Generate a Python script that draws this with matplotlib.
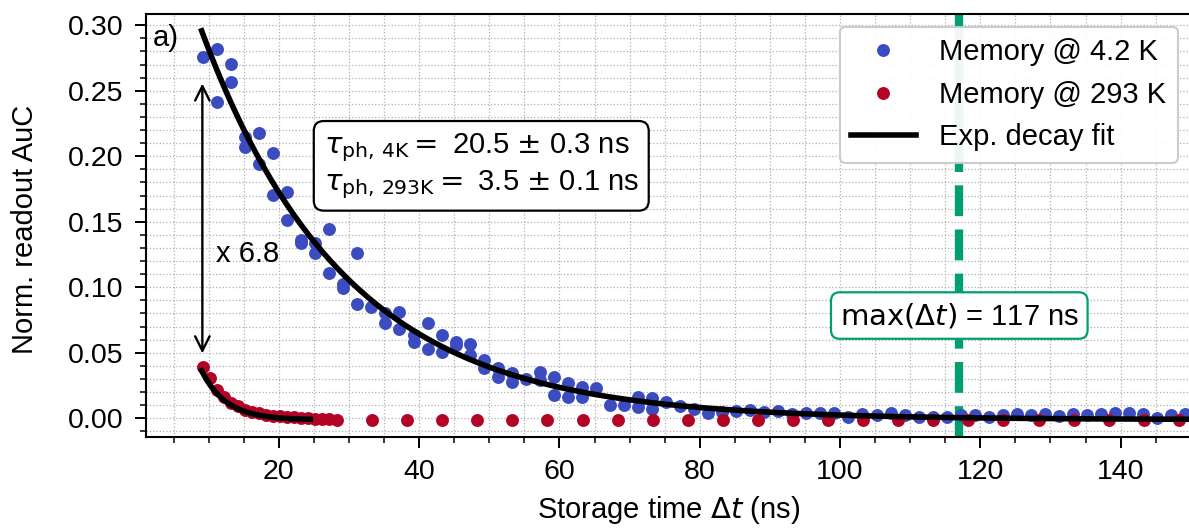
import numpy as np
import matplotlib
matplotlib.use("Agg")
import matplotlib.pyplot as plt
from matplotlib.ticker import MultipleLocator

plt.rcParams['font.family'] = ['Liberation Sans', 'DejaVu Sans']
plt.rcParams['mathtext.fontset'] = 'dejavusans'

# Memory @ 4.2 K (storage time in ns, normalised AuC)
t_4k = [9.2, 11.2, 11.2, 13.2, 13.2, 15.2, 15.2, 17.2, 17.2, 19.2, 19.2, 21.2, 21.2,
        23.2, 23.2, 25.2, 25.2, 27.2, 27.2, 29.2, 29.2, 31.2, 31.2, 33.2, 35.2, 35.2,
        37.2, 37.2, 39.2, 39.2, 41.2, 41.2, 43.2, 43.2, 45.2, 45.2, 47.2, 47.2, 49.2,
        49.2, 51.2, 51.2, 53.2, 53.2, 55.2, 57.2, 57.2, 59.2, 59.2, 61.2, 61.2, 63.2,
        63.2, 65.2, 67.2, 69.2, 71.2, 71.2, 73.2, 73.2, 75.2, 77.2, 79.2, 81.2, 83.2,
        85.2, 87.2, 89.2, 91.2, 93.2, 95.2, 97.2, 99.2, 101.2, 103.2, 105.2, 107.2,
        109.2, 111.2, 113.2, 115.2, 117.2, 119.2, 121.2, 123.2, 125.2, 127.2, 129.2,
        131.2, 133.2, 135.2, 137.2, 139.2, 141.2, 143.2, 145.2, 147.2, 149.2]
auc_4k = [0.276, 0.2816, 0.2416, 0.2702, 0.2569, 0.2149, 0.2073, 0.2175, 0.1938, 0.2027,
          0.1704, 0.1729, 0.1513, 0.136, 0.1335, 0.134, 0.1263, 0.1442, 0.1111, 0.1024,
          0.0992, 0.1259, 0.0869, 0.0847, 0.0805, 0.0729, 0.0813, 0.068, 0.0635, 0.0584,
          0.0729, 0.0526, 0.0635, 0.0508, 0.0584, 0.0559, 0.0564, 0.0482, 0.0444, 0.0381,
          0.0381, 0.0317, 0.0343, 0.0279, 0.0297, 0.035, 0.0292, 0.0317, 0.0177, 0.0271,
          0.0164, 0.024, 0.0164, 0.0228, 0.0101, 0.0101, 0.0164, 0.0088, 0.0151, 0.0068,
          0.0126, 0.0097, 0.0072, 0.004, 0.005, 0.0055, 0.0063, 0.005, 0.0055, 0.003,
          0.0037, 0.0037, 0.0037, 0.001, 0.003, 0.0024, 0.0037, 0.0024, 0.0011, 0.0011,
          0.0011, 0.0024, 0.0024, 0.0011, 0.0024, 0.003, 0.0024, 0.003, 0.002, 0.003,
          0.0024, 0.003, 0.0037, 0.0037, 0.003, 0.0, 0.0024, 0.003]

# Memory @ 293 K
t_293k = [9.2, 10.2, 11.2, 12.2, 13.2, 14.2, 15.2, 16.2, 17.2, 18.2, 19.2, 20.2, 21.2,
          22.2, 23.2, 24.2, 25.2, 26.2, 27.2, 28.3, 33.3, 38.3, 43.3, 48.3, 53.3, 58.3,
          63.3, 68.3, 73.3, 78.3, 83.3, 88.3, 93.3, 98.3, 103.3, 108.3, 113.3, 118.3,
          123.3, 128.3, 133.3, 138.3, 143.3, 148.3]
auc_293k = [0.0393, 0.0305, 0.0215, 0.016, 0.012, 0.009, 0.0065, 0.005, 0.0038, 0.0028,
            0.002, 0.0015, 0.001, 0.0006, 0.0003, 0.0, -0.0003, -0.0006, -0.0008, -0.0012,
            -0.0014, -0.0012, -0.0014, -0.0012, -0.0014, -0.0014, -0.0012, -0.0014, -0.0012,
            -0.0014, -0.0014, -0.0012, -0.0014, -0.0014, -0.0012, -0.0014, -0.0012, -0.0014,
            -0.0014, -0.0012, -0.0014, -0.0012, -0.0014, -0.0012]

# exponential decay fits
tau_4k, amp_4k, off_4k = 20.5, 0.2969, -0.0011
tau_293k, amp_293k, off_293k = 3.5, 0.0376, -0.0013
t0 = 9.0
max_dt = 117

blue = '#3b4cc0'
red = '#b40426'
green = '#009e73'

fig = plt.figure(figsize=(11.89, 5.28), dpi=100)
ax = fig.add_axes([0.1224, 0.1723, 0.8791, 0.8021])

ax.axvline(max_dt, color=green, lw=6, ls='--', zorder=1)

ax.plot(t_4k, auc_4k, 'o', color=blue, ms=9.3, mew=0, label='Memory @ 4.2 K', zorder=3)
ax.plot(t_293k, auc_293k, 'o', color=red, ms=9.3, mew=0, label='Memory @ 293 K', zorder=3)

tf = np.linspace(t0, 150, 400)
ax.plot(tf, amp_4k * np.exp(-(tf - t0) / tau_4k) + off_4k, color='black', lw=4,
        label='Exp. decay fit', zorder=4)
tf2 = np.linspace(t0, 24.5, 100)
ax.plot(tf2, amp_293k * np.exp(-(tf2 - t0) / tau_293k) + off_293k, color='black', lw=4, zorder=4)

ax.annotate('', xy=(9.1, 0.0495), xytext=(9.1, 0.2556),
            arrowprops=dict(arrowstyle='<->', lw=1.7, color='black', mutation_scale=26,
                            shrinkA=0, shrinkB=0), zorder=5)
ax.text(11.0, 0.1253, 'x 6.8', fontsize=21, ha='left', va='center', zorder=5)
ax.text(0.007, 0.975, 'a)', transform=ax.transAxes, fontsize=21, ha='left', va='top')

ax.text(26.4, 0.1927,
        r'$\tau_\mathrm{ph,\,4K} =$ 20.5 $\pm$ 0.3 ns' + '\n' + r'$\tau_\mathrm{ph,\,293K} =$ 3.5 $\pm$ 0.1 ns',
        fontsize=21, ha='left', va='center', linespacing=1.2, zorder=6,
        bbox=dict(boxstyle='round,pad=0.34', fc='white', ec='black', lw=1.6))
ax.text(max_dt, 0.0784, r'$\max(\Delta t)$ = 117 ns', fontsize=21, ha='center', va='center',
        zorder=6, bbox=dict(boxstyle='round,pad=0.3', fc='white', ec=green, lw=1.6))

ax.set_xlim(1, 150)
ax.set_ylim(-0.01435, 0.309)
ax.xaxis.set_major_locator(MultipleLocator(20))
ax.xaxis.set_minor_locator(MultipleLocator(5))
ax.yaxis.set_major_locator(MultipleLocator(0.05))
ax.yaxis.set_minor_locator(MultipleLocator(0.01))
ax.yaxis.set_major_formatter(plt.FormatStrFormatter('%.2f'))
ax.tick_params(which='major', length=7.8, width=1.4, labelsize=20.5, pad=8)
ax.tick_params(which='minor', length=4, width=1.1)
for s in ax.spines.values():
    s.set_linewidth(1.5)

ax.grid(True, which='both', ls=':', color='#b0b0b0', lw=0.9)
ax.set_axisbelow(True)

ax.set_xlabel(r'Storage time $\Delta t$ (ns)', fontsize=21)
ax.set_ylabel('Norm. readout AuC', fontsize=21)
ax.xaxis.set_label_coords(0.5, -0.172)
ax.xaxis.label.set_va('center')
ax.yaxis.set_label_coords(-0.115, 0.49)
ax.yaxis.label.set_va('center')

leg = ax.legend(loc='upper right', fontsize=21, handlelength=2.2, borderaxespad=0.45,
                framealpha=0.93)
leg.get_frame().set_linewidth(1.5)
leg.get_frame().set_edgecolor('#c8c8c8')
leg.set_zorder(7)

fig.savefig('out.png', dpi=100)
